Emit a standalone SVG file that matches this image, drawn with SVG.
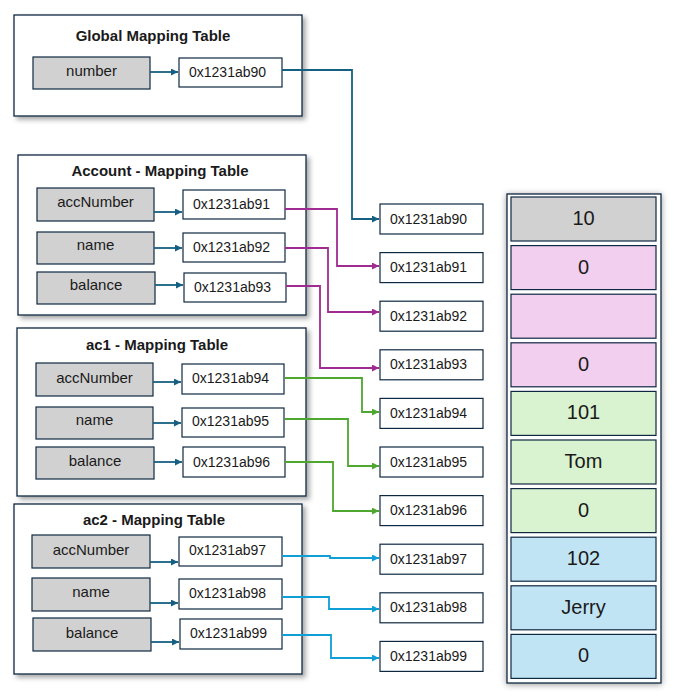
<svg xmlns="http://www.w3.org/2000/svg" width="677" height="697" viewBox="0 0 677 697">
<defs>
<filter id="sh" x="-10%" y="-10%" width="125%" height="125%">
<feDropShadow dx="3" dy="3" stdDeviation="2.5" flood-color="#000" flood-opacity="0.35"/>
</filter>
<filter id="sh2" x="-10%" y="-5%" width="125%" height="112%">
<feDropShadow dx="0" dy="1" stdDeviation="3" flood-color="#000" flood-opacity="0.4"/>
</filter>
<marker id="aN" viewBox="0 0 10 10" refX="10" refY="5" markerWidth="7" markerHeight="7" markerUnits="userSpaceOnUse" orient="auto"><path d="M0,0 L10,5 L0,10 z" fill="#156082"/></marker>
<marker id="aP" viewBox="0 0 10 10" refX="10" refY="5" markerWidth="7" markerHeight="7" markerUnits="userSpaceOnUse" orient="auto"><path d="M0,0 L10,5 L0,10 z" fill="#a02b93"/></marker>
<marker id="aG" viewBox="0 0 10 10" refX="10" refY="5" markerWidth="7" markerHeight="7" markerUnits="userSpaceOnUse" orient="auto"><path d="M0,0 L10,5 L0,10 z" fill="#4ea72e"/></marker>
<marker id="aB" viewBox="0 0 10 10" refX="10" refY="5" markerWidth="7" markerHeight="7" markerUnits="userSpaceOnUse" orient="auto"><path d="M0,0 L10,5 L0,10 z" fill="#0f9ed5"/></marker>
</defs>
<style>
.tbl{fill:#fff;stroke:#0e2841;stroke-width:1.3;filter:url(#sh)}
.lbl{fill:#d1d1d1;stroke:#0e2841;stroke-width:1.2}
.adr{fill:#fff;stroke:#0e2841;stroke-width:1.2}
.title{font-family:"Liberation Sans",Arial,sans-serif;font-weight:bold;font-size:15px;fill:#1a1a1a;text-anchor:middle}
.lt{font-family:"Liberation Sans",Arial,sans-serif;font-size:15px;fill:#1a1a1a;text-anchor:middle}
.at{font-family:"Liberation Sans",Arial,sans-serif;font-size:14px;fill:#1a1a1a}
.vt{font-family:"Liberation Sans",Arial,sans-serif;font-size:20px;fill:#1a1a1a;text-anchor:middle}
.cell{stroke:#0e2841;stroke-width:1.2}
.cN{fill:none;stroke:#156082;stroke-width:1.8;marker-end:url(#aN)}
.cP{fill:none;stroke:#a02b93;stroke-width:1.8;marker-end:url(#aP)}
.cG{fill:none;stroke:#4ea72e;stroke-width:1.8;marker-end:url(#aG)}
.cB{fill:none;stroke:#0f9ed5;stroke-width:1.8;marker-end:url(#aB)}
</style>

<g id="global-table">
<rect class="tbl" x="14" y="15" width="288" height="101"/>
<text class="title" x="153" y="41">Global Mapping Table</text>
<rect class="lbl" x="33" y="57" width="117" height="32"/>
<text class="lt" x="91.5" y="76">number</text>
<rect class="adr" x="179" y="58" width="103" height="29"/>
<text class="at" x="189" y="77">0x1231ab90</text>
</g>

<g id="account-table">
<rect class="tbl" x="18" y="155" width="288" height="160"/>
<text class="title" x="160" y="176">Account - Mapping Table</text>
<rect class="lbl" x="37" y="188" width="117" height="33"/>
<text class="lt" x="95.5" y="207">accNumber</text>
<rect class="adr" x="183" y="190" width="102" height="29"/>
<text class="at" x="193" y="209">0x1231ab91</text>
<rect class="lbl" x="37" y="232" width="117" height="32"/>
<text class="lt" x="95.5" y="250">name</text>
<rect class="adr" x="183" y="233" width="102" height="29"/>
<text class="at" x="193" y="252">0x1231ab92</text>
<rect class="lbl" x="37" y="272" width="118" height="32"/>
<text class="lt" x="96" y="290">balance</text>
<rect class="adr" x="184" y="273" width="102" height="29"/>
<text class="at" x="194" y="292">0x1231ab93</text>
</g>

<g id="ac1-table">
<rect class="tbl" x="17" y="328" width="289" height="168"/>
<text class="title" x="157" y="350">ac1 - Mapping Table</text>
<rect class="lbl" x="36" y="363" width="117" height="33"/>
<text class="lt" x="94.5" y="383">accNumber</text>
<rect class="adr" x="182" y="364" width="102" height="30"/>
<text class="at" x="192" y="383">0x1231ab94</text>
<rect class="lbl" x="36" y="407" width="117" height="32"/>
<text class="lt" x="94.5" y="425">name</text>
<rect class="adr" x="182" y="408" width="102" height="29"/>
<text class="at" x="192" y="426">0x1231ab95</text>
<rect class="lbl" x="36" y="447" width="118" height="32"/>
<text class="lt" x="95" y="466">balance</text>
<rect class="adr" x="183" y="447" width="102" height="30"/>
<text class="at" x="193" y="467">0x1231ab96</text>
</g>

<g id="ac2-table">
<rect class="tbl" x="14" y="504" width="288" height="170"/>
<text class="title" x="154" y="525">ac2 - Mapping Table</text>
<rect class="lbl" x="32" y="535" width="118" height="33"/>
<text class="lt" x="91" y="555">accNumber</text>
<rect class="adr" x="179" y="537" width="103" height="29"/>
<text class="at" x="189" y="555">0x1231ab97</text>
<rect class="lbl" x="32" y="578" width="118" height="33"/>
<text class="lt" x="91" y="597">name</text>
<rect class="adr" x="179" y="579" width="103" height="30"/>
<text class="at" x="189" y="598">0x1231ab98</text>
<rect class="lbl" x="33" y="618" width="118" height="33"/>
<text class="lt" x="92" y="638">balance</text>
<rect class="adr" x="180" y="619" width="102" height="30"/>
<text class="at" x="190" y="638">0x1231ab99</text>
</g>

<g id="address-list">
<rect class="adr" x="380" y="204" width="103" height="30"/><text class="at" x="390" y="223.5">0x1231ab90</text>
<rect class="adr" x="380" y="252.6" width="103" height="30"/><text class="at" x="390" y="272.1">0x1231ab91</text>
<rect class="adr" x="380" y="301.2" width="103" height="30"/><text class="at" x="390" y="320.7">0x1231ab92</text>
<rect class="adr" x="380" y="349.8" width="103" height="30"/><text class="at" x="390" y="369.3">0x1231ab93</text>
<rect class="adr" x="380" y="398.4" width="103" height="30"/><text class="at" x="390" y="417.9">0x1231ab94</text>
<rect class="adr" x="380" y="447" width="103" height="30"/><text class="at" x="390" y="466.5">0x1231ab95</text>
<rect class="adr" x="380" y="495.6" width="103" height="30"/><text class="at" x="390" y="515.1">0x1231ab96</text>
<rect class="adr" x="380" y="544.2" width="103" height="30"/><text class="at" x="390" y="563.7">0x1231ab97</text>
<rect class="adr" x="380" y="592.8" width="103" height="30"/><text class="at" x="390" y="612.3">0x1231ab98</text>
<rect class="adr" x="380" y="641.4" width="103" height="30"/><text class="at" x="390" y="660.9">0x1231ab99</text>
</g>

<g id="memory">
<rect x="507" y="194" width="154" height="489" fill="#fff" stroke="#0e2841" stroke-width="1.3" filter="url(#sh2)"/>
<rect class="cell" x="511" y="197" width="145" height="44" fill="#d1d1d1"/><text class="vt" x="583.5" y="225">10</text>
<rect class="cell" x="511" y="245.6" width="145" height="44" fill="#f2cfee"/><text class="vt" x="583.5" y="273.6">0</text>
<rect class="cell" x="511" y="294.2" width="145" height="44" fill="#f2cfee"/>
<rect class="cell" x="511" y="342.8" width="145" height="44" fill="#f2cfee"/><text class="vt" x="583.5" y="370.8">0</text>
<rect class="cell" x="511" y="391.4" width="145" height="44" fill="#d9f2d0"/><text class="vt" x="583.5" y="419.4">101</text>
<rect class="cell" x="511" y="440" width="145" height="44" fill="#d9f2d0"/><text class="vt" x="583.5" y="468">Tom</text>
<rect class="cell" x="511" y="488.6" width="145" height="44" fill="#d9f2d0"/><text class="vt" x="583.5" y="516.6">0</text>
<rect class="cell" x="511" y="537.2" width="145" height="44" fill="#c1e4f5"/><text class="vt" x="583.5" y="565.2">102</text>
<rect class="cell" x="511" y="585.8" width="145" height="44" fill="#c1e4f5"/><text class="vt" x="583.5" y="613.8">Jerry</text>
<rect class="cell" x="511" y="634.4" width="145" height="44" fill="#c1e4f5"/><text class="vt" x="583.5" y="662.4">0</text>
</g>

<g id="connectors">
<path class="cN" d="M150,72 H178"/>
<path class="cN" d="M154,212 H182"/>
<path class="cN" d="M154,248 H182"/>
<path class="cN" d="M155,285 H183"/>
<path class="cN" d="M153,382 H181"/>
<path class="cN" d="M153,423 H181"/>
<path class="cN" d="M154,462 H182"/>
<path class="cN" d="M150,562 H178"/>
<path class="cN" d="M150,603 H178"/>
<path class="cN" d="M151,642 H179"/>
<path class="cN" d="M282,70 H352 V219 H379"/>
<path class="cP" d="M285,209 H337 V266 H379"/>
<path class="cP" d="M285,248 H328 V312 H379"/>
<path class="cP" d="M286,286 H320 V368 H379"/>
<path class="cG" d="M285,378 H362 V412 H379"/>
<path class="cG" d="M285,419 H348 V466 H379"/>
<path class="cG" d="M285,462 H333 V511 H379"/>
<path class="cB" d="M282,556 H330 V558 H379"/>
<path class="cB" d="M282,597 H329 V609 H379"/>
<path class="cB" d="M282,635 H331 V658 H379"/>
</g>
</svg>
